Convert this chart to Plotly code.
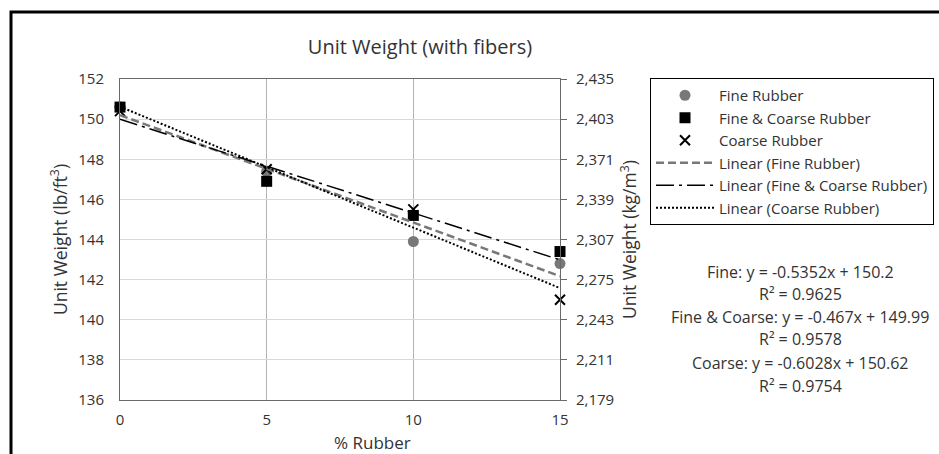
import numpy as np
import plotly.graph_objects as go

# ---- data ----
pct_rubber = [0, 5, 10, 15]
fine = [150.6, 147.4, 143.9, 142.8]
fine_coarse = [150.6, 146.9, 145.2, 143.4]
coarse = [150.4, 147.5, 145.5, 141.0]

fit_names = ["Fine Rubber", "Fine & Coarse Rubber", "Coarse Rubber"]
fit_slopes = [-0.5352, -0.467, -0.6028]
fit_intercepts = [150.2, 149.99, 150.62]
fit_r2 = [0.9625, 0.9578, 0.9754]
fit_labels = ["Fine", "Fine & Coarse", "Coarse"]

left_ticks = [136, 138, 140, 142, 144, 146, 148, 150, 152]
right_ticks = [2179, 2211, 2243, 2275, 2307, 2339, 2371, 2403, 2435]

# ---- layout geometry (pixels) ----
W, H = 939, 454
L, R, T, B = 120, 560, 79, 400
def px(x):
    return (x - L) / (R - L)
def py(y):
    return (B - y) / (B - T)

FONT = "Open Sans"
TXT = "#333333"

fig = go.Figure()

fig.add_trace(go.Scatter(x=pct_rubber, y=fine, mode="markers", name="Fine Rubber",
                         cliponaxis=False,
                         marker=dict(symbol="circle", size=11, color="#787878")))
fig.add_trace(go.Scatter(x=pct_rubber, y=fine_coarse, mode="markers", name="Fine & Coarse Rubber",
                         cliponaxis=False,
                         marker=dict(symbol="square", size=11, color="black")))
fig.add_trace(go.Scatter(x=pct_rubber, y=coarse, mode="markers", name="Coarse Rubber",
                         cliponaxis=False,
                         marker=dict(symbol="x-thin", size=10, color="black",
                                     line=dict(width=2, color="black"))))

styles = [dict(color="#787878", width=2.5, dash="8px,4px"),
          dict(color="black", width=1.5, dash="18px,5px,3px,5px"),
          dict(color="black", width=2, dash="2px,2px")]
xs = np.array([min(pct_rubber), max(pct_rubber)], dtype=float)
for nm, m, b, st in zip(fit_names, fit_slopes, fit_intercepts, styles):
    fig.add_trace(go.Scatter(x=xs, y=m * xs + b, mode="lines", name=f"Linear ({nm})",
                             line=st))

# invisible trace for the secondary axis
fig.add_trace(go.Scatter(x=[None], y=[None], yaxis="y2", showlegend=False))

# equations annotation
eq_lines = []
for lab, m, b, r2 in zip(fit_labels, fit_slopes, fit_intercepts, fit_r2):
    eq_lines.append(f"{lab}: y = {m:g}x + {b:g}")
    eq_lines.append(f"R² = {r2:g}")
eq_y = [272, 294, 317, 339, 363, 386]
annotations = []
for t, yy in zip(eq_lines, eq_y):
    annotations.append(dict(text=t, x=px(800), y=py(yy), xref="paper", yref="paper",
                            showarrow=False, xanchor="center", yanchor="middle",
                            font=dict(family=FONT, size=16, color=TXT)))
annotations.append(dict(text="% Rubber", x=px(372), y=py(443), xref="paper", yref="paper",
                        showarrow=False, xanchor="center", yanchor="middle",
                        font=dict(family=FONT, size=17, color=TXT)))

fig.update_layout(
    width=W, height=H,
    margin=dict(l=L, r=W - R, t=T, b=H - B, autoexpand=False),
    paper_bgcolor="white", plot_bgcolor="white",
    font=dict(family=FONT, size=15, color=TXT),
    title=dict(text="Unit Weight (with fibers)", x=px(420), xref="paper", xanchor="center",
               y=1 - 47 / H, yref="container", yanchor="middle",
               font=dict(family=FONT, size=20, color=TXT)),
    xaxis=dict(range=[0, 15], tickvals=[0, 5, 10, 15], showgrid=True, gridcolor="#b4b4b4",
               gridwidth=1, showline=True, linecolor="#6a6a6a", linewidth=1, mirror=True,
               zeroline=False, ticks="", ticklabelstandoff=6, automargin=False,
               tickfont=dict(family=FONT, size=15, color=TXT)),
    yaxis=dict(range=[136, 152], tickvals=left_ticks, showgrid=True, gridcolor="#d9d9d9",
               gridwidth=1, showline=True, linecolor="#6a6a6a", linewidth=1, mirror=True,
               zeroline=False, ticks="", ticklabelstandoff=12, automargin=False,
               tickfont=dict(family=FONT, size=15, color=TXT),
               title=dict(text="Unit Weight (lb/ft<sup>3</sup>)", standoff=6,
                          font=dict(family=FONT, size=17.5, color=TXT))),
    yaxis2=dict(range=[2179, 2435], tickvals=right_ticks, tickformat=",d", overlaying="y",
                side="right", showgrid=False, zeroline=False, showline=True,
                linecolor="#6a6a6a", ticks="outside", ticklen=6, tickcolor="#6a6a6a",
                ticklabelstandoff=6, automargin=False,
                tickfont=dict(family=FONT, size=15, color=TXT),
                title=dict(text="Unit Weight (kg/m<sup>3</sup>)", standoff=10,
                           font=dict(family=FONT, size=17.5, color=TXT))),
    legend=dict(x=px(650), y=py(78), xanchor="left", yanchor="top",
                bordercolor="black", borderwidth=1, bgcolor="white",
                font=dict(family=FONT, size=15, color=TXT), itemwidth=58,
                tracegroupgap=0),
    annotations=annotations,
    shapes=[dict(type="rect", xref="paper", yref="paper",
                 x0=px(11), x1=px(960), y0=py(470), y1=py(12),
                 line=dict(color="black", width=3), layer="above")],
    showlegend=True,
)

fig.write_html("out.html")
